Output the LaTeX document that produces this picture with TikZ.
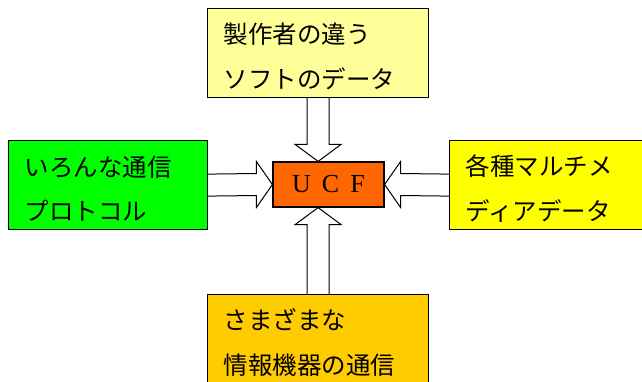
\documentclass[tikz,border=0pt]{standalone}
\usepackage{fontspec}
\setmainfont{Liberation Serif}
\newfontfamily\jp{Noto Sans CJK JP}
\usetikzlibrary{calc}
\definecolor{cTop}{HTML}{FFFF99}
\definecolor{cLeft}{HTML}{00FF00}
\definecolor{cRight}{HTML}{FFFF00}
\definecolor{cBottom}{HTML}{FFCC00}
\definecolor{cUCF}{HTML}{FF6600}
\pgfdeclarelayer{bg}
\pgfsetlayers{bg,main}
\begin{document}
\begin{tikzpicture}[x=1pt,y=-1pt,
  box/.style={draw=black, line width=1.2pt, rectangle, anchor=north west,
    minimum height=89pt, inner xsep=16pt, inner ysep=0pt, align=left,
    font=\jp\fontsize{24.5}{44.5}\selectfont,
    execute at begin node={\rule{0pt}{27.5pt}}},
  core/.style={draw=black, line width=1.2pt, rectangle, fill=cUCF,
    minimum width=111pt, minimum height=45pt, inner sep=0pt,
    font=\fontsize{26}{26}\selectfont},
  barrow/.style={draw=black, line width=1pt, fill=white, line join=miter}]
\useasboundingbox (0,0) rectangle (642,381);
\clip (0,0) rectangle (642,381);
\node[box, fill=cTop, text width=189pt] (top) at (207,8) {製作者の違う\\ソフトのデータ};
\node[box, fill=cLeft, text width=167pt] (left) at (8,140) {いろんな通信\\プロトコル};
\node[box, fill=cRight, text width=189pt] (right) at (449,140) {各種マルチメ\\ディアデータ};
\node[box, fill=cBottom, text width=189pt] (bottom) at (207,294) {さまざまな\\情報機器の通信};
\node[core] (ucf) at (328.5,184.5) {U\hspace{11pt}C\hspace{11pt}F};
\begin{pgfonlayer}{bg}
\draw[barrow] ($(top.south)+(-11,0)$) -- ($(top.south |- ucf.north)+(-11,-17)$) -- ++(-12,0)
  -- (top.south |- ucf.north) -- ++(23,-17) -- ++(-12,0) -- ($(top.south)+(11,0)$);
\draw[barrow] ($(bottom.north)+(-11,0)$) -- ($(bottom.north |- ucf.south)+(-11,17)$) -- ++(-12,0)
  -- (bottom.north |- ucf.south) -- ++(23,17) -- ++(-12,0) -- ($(bottom.north)+(11,0)$);
\draw[barrow] ($(left.east)+(0,-11)$) -- ($(ucf.west)+(-16,-11)$) -- ++(0,-12)
  -- (ucf.west) -- ++(-16,23) -- ++(0,-12) -- ($(left.east)+(0,11)$);
\draw[barrow] ($(right.west)+(0,-11)$) -- ($(ucf.east)+(16,-11)$) -- ++(0,-12)
  -- (ucf.east) -- ++(16,23) -- ++(0,-12) -- ($(right.west)+(0,11)$);
\end{pgfonlayer}
\end{tikzpicture}
\end{document}
